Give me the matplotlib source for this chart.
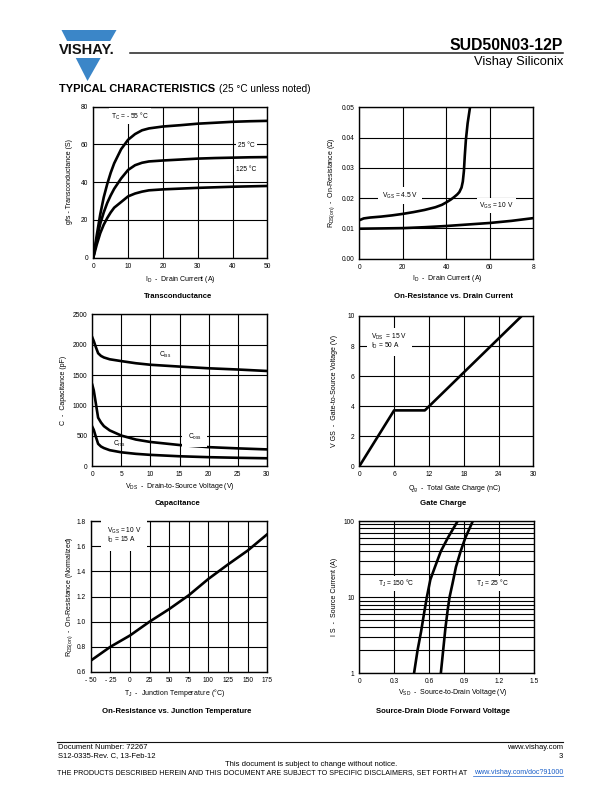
import matplotlib
matplotlib.use("Agg")
import matplotlib.pyplot as plt
from matplotlib.patches import Polygon, Rectangle
from matplotlib.lines import Line2D

plt.rcParams['font.family'] = ['Liberation Sans', 'DejaVu Sans']
plt.rcParams['mathtext.default'] = 'regular'

# ---------------- data ----------------
# Transconductance
id_gfs = [0, 1, 2, 3, 4, 5, 6, 8, 10, 12, 14, 16, 20, 25, 30, 35, 40, 45, 50]
gfs_m55 = [0, 12, 23, 32, 39, 45, 50, 57.5, 62.5, 65.5, 67.5, 68.5, 69.5, 70.2, 71, 71.5, 72, 72.3, 72.5]
gfs_25 = [0, 10, 18, 24, 29, 33, 36.5, 42, 46.5, 49, 50.3, 51, 51.5, 52, 52.5, 52.8, 53, 53.2, 53.3]
gfs_125 = [0, 7, 13, 17.5, 21, 24, 26.5, 29.5, 32.5, 34, 35, 35.7, 36.2, 36.6, 37, 37.3, 37.6, 37.8, 38]

# On-resistance vs drain current
id_45 = [0, 2, 5, 10, 15, 20, 25, 30, 35, 38, 40, 42, 43.5, 45, 46, 47, 47.6, 48.1, 48.5, 49.0, 49.8, 50.9]
rds_45 = [0.0127, 0.0133, 0.0136, 0.0139, 0.0143, 0.0148, 0.0154, 0.0161, 0.0170, 0.0178, 0.0186,
          0.0195, 0.0203, 0.0212, 0.0220, 0.0235, 0.0255, 0.0290, 0.0340, 0.0392, 0.0447, 0.0500]
id_10 = [0, 10, 20, 30, 40, 50, 60, 70, 80]
rds_10 = [0.0099, 0.0100, 0.0101, 0.0104, 0.0108, 0.0113, 0.0118, 0.0125, 0.0134]

# Capacitance
vds = [0, 0.25, 0.5, 1, 1.5, 2, 3, 5, 7.5, 10, 15, 20, 25, 30]
ciss = [2120, 2060, 1990, 1860, 1815, 1790, 1760, 1730, 1695, 1670, 1640, 1612, 1592, 1568]
coss = [1340, 1250, 1100, 800, 720, 660, 590, 505, 440, 400, 350, 315, 295, 278]
crss = [650, 600, 520, 370, 325, 300, 265, 230, 205, 188, 165, 150, 140, 132]

# Gate charge
qg = [0, 6, 11.3, 28]
vgs = [0, 3.72, 3.72, 10]

# On-resistance vs junction temperature
tj = [-50, -25, 0, 25, 50, 75, 100, 125, 150, 175]
rds_norm = [0.69, 0.80, 0.89, 1.00, 1.10, 1.21, 1.34, 1.455, 1.565, 1.695]

# Source-drain diode forward voltage
vsd_150 = [0.47, 0.50, 0.53, 0.555, 0.58, 0.61, 0.65, 0.70, 0.76, 0.845]
is_150 = [1, 2, 3.5, 6, 10, 17, 25, 40, 60, 100]
vsd_25 = [0.70, 0.72, 0.74, 0.76, 0.775, 0.80, 0.83, 0.87, 0.91, 0.975]
is_25 = [1, 2, 4, 7, 10, 15, 25, 40, 60, 100]

# tick labels
t1x = [0, 10, 20, 30, 40, 50]; t1y = [0, 20, 40, 60, 80]
t2x = [0, 20, 40, 60, 80]; t2xl = ['0', '20', '40', '60', '8']
t2y = [0.00, 0.01, 0.02, 0.03, 0.04, 0.05]
t3x = [0, 5, 10, 15, 20, 25, 30]; t3y = [0, 500, 1000, 1500, 2000, 2500]
t4x = [0, 6, 12, 18, 24, 30]; t4y = [0, 2, 4, 6, 8, 10]
t5x = [-50, -25, 0, 25, 50, 75, 100, 125, 150, 175]
t5xl = ['- 50', '- 25', '0', '25', '50', '75', '100', '125', '150', '175']
t5y = [0.6, 0.8, 1.0, 1.2, 1.4, 1.6, 1.8]
t6x = [0, 0.3, 0.6, 0.9, 1.2, 1.5]; t6y = [1, 10, 100]

# ---------------- figure ----------------
W, H = 612, 792
fig = plt.figure(figsize=(W / 100, H / 100), dpi=100)

def fx(x): return x / W
def fy(y): return 1 - y / H

BLUE = '#3b86c8'
# logo
fig.patches.append(Polygon([[fx(61.5), fy(30)], [fx(116.5), fy(30)], [fx(87.5), fy(81)]],
                           closed=True, transform=fig.transFigure, facecolor=BLUE, edgecolor='none'))
fig.patches.append(Rectangle((fx(56), fy(58)), (118 - 56) / W, (58 - 41) / H,
                             transform=fig.transFigure, facecolor='white', edgecolor='none'))
fig.text(fx(87), fy(50), 'VISHAY.', ha='center', va='center', fontsize=10.5, fontweight='bold', color='#111')

fig.add_artist(Line2D([fx(130), fx(563)], [fy(53.3), fy(53.3)], color='#222', lw=1.1,
                      transform=fig.transFigure))
fig.text(fx(563), fy(45), 'SUD50N03-12P', ha='right', va='center', fontsize=11.3, fontweight='bold')
fig.text(fx(563), fy(62.5), 'Vishay Siliconix', ha='right', va='center', fontsize=9.3)
fig.text(fx(59.3), fy(89), 'TYPICAL CHARACTERISTICS', ha='left', va='center', fontsize=8, fontweight='bold')
fig.text(fx(219), fy(89), '(25 °C unless noted)', ha='left', va='center', fontsize=7.2)

# footer
fig.add_artist(Line2D([fx(57), fx(563)], [fy(741.5), fy(741.5)], color='#111', lw=0.8,
                      transform=fig.transFigure))
fs_f = 5.5
fig.text(fx(58), fy(747.5), 'Document Number: 72267', ha='left', va='center', fontsize=fs_f)
fig.text(fx(58), fy(756), 'S12-0335-Rev. C, 13-Feb-12', ha='left', va='center', fontsize=fs_f)
fig.text(fx(563), fy(747.5), 'www.vishay.com', ha='right', va='center', fontsize=fs_f)
fig.text(fx(563), fy(756), '3', ha='right', va='center', fontsize=fs_f)
fig.text(fx(311), fy(764), 'This document is subject to change without notice.', ha='center', va='center', fontsize=fs_f)
fig.text(fx(57), fy(772.5), 'THE PRODUCTS DESCRIBED HEREIN AND THIS DOCUMENT ARE SUBJECT TO SPECIFIC DISCLAIMERS, SET FORTH AT',
         ha='left', va='center', fontsize=5.1)
fig.text(fx(563), fy(772.5), 'www.vishay.com/doc?91000', ha='right', va='center', fontsize=5.1, color='#1a5fc8')
fig.add_artist(Line2D([fx(473), fx(563)], [fy(776), fy(776)], color='#1a5fc8', lw=0.5,
                      transform=fig.transFigure))

LW = 1.9
TICK_FS = 4.8
LAB_FS = 5.0
ANN_FS = 4.8
BOX = dict(facecolor='white', edgecolor='none', pad=1.5)


def make_ax(l, r, t, b):
    ax = fig.add_axes([fx(l), fy(b), (r - l) / W, (b - t) / H])
    for s in ax.spines.values():
        s.set_linewidth(1.0)
        s.set_color('black')
    ax.tick_params(length=0, labelsize=TICK_FS, pad=3.5, which='both')
    ax.grid(True, color='black', lw=0.8)
    ax.set_axisbelow(True)
    ax._pix = (l, r, t, b)
    return ax


def place_labels(ax, xlabel, xl_pos, ylabel, yl_pos, title, title_pos):
    l, r, t, b = ax._pix
    ax.set_xlabel(xlabel, fontsize=LAB_FS, va='center', ha='center')
    ax.xaxis.set_label_coords((xl_pos[0] - l) / (r - l), (b - xl_pos[1]) / (b - t))
    ax.set_ylabel(ylabel, fontsize=LAB_FS, va='center', ha='center')
    ax.yaxis.set_label_coords((yl_pos[0] - l) / (r - l), (b - yl_pos[1]) / (b - t))
    fig.text(fx(title_pos[0]), fy(title_pos[1]), title, ha='center', va='center',
             fontsize=5.6, fontweight='bold')


# ---- 1 Transconductance ----
ax1 = make_ax(93.3, 267.3, 106.7, 257.7)
ax1.plot(id_gfs, gfs_m55, color='black', lw=LW, solid_capstyle='round')
ax1.plot(id_gfs, gfs_25, color='black', lw=LW, solid_capstyle='round')
ax1.plot(id_gfs, gfs_125, color='black', lw=LW, solid_capstyle='round')
ax1.set_xlim(0, 50); ax1.set_ylim(0, 80)
ax1.set_xticks(t1x); ax1.set_yticks(t1y)
ax1.text(10.5, 75, 'T$_C$ = - 55 °C', fontsize=ANN_FS, ha='center', va='center', bbox=BOX)
ax1.text(44, 59.5, '25 °C', fontsize=ANN_FS, ha='center', va='center', bbox=BOX)
ax1.text(43.8, 46.5, '125 °C', fontsize=ANN_FS, ha='center', va='center', bbox=BOX)
place_labels(ax1, 'I$_D$  -  Drain Current (A)', (180, 279.3),
             'gfs - Transconductance (S)', (69.5, 182), 'Transconductance', (177.7, 296))

# ---- 2 On-resistance vs drain current ----
ax2 = make_ax(359.3, 533.3, 107.3, 258.7)
ax2.plot(id_45, rds_45, color='black', lw=LW)
ax2.plot(id_10, rds_10, color='black', lw=LW)
ax2.set_xlim(0, 80); ax2.set_ylim(0, 0.05)
ax2.set_xticks(t2x); ax2.set_xticklabels(t2xl)
ax2.set_yticks(t2y); ax2.set_yticklabels(['%.2f' % v for v in t2y])
ax2.text(18.7, 0.0208, 'V$_{GS}$ = 4.5 V', fontsize=ANN_FS, ha='center', va='center',
         bbox=dict(facecolor='white', edgecolor='none', pad=2.5))
ax2.text(63, 0.0176, 'V$_{GS}$ = 10 V', fontsize=ANN_FS, ha='center', va='center', bbox=BOX)
place_labels(ax2, 'I$_D$  -  Drain Current (A)', (447, 278.5),
             'R$_{DS(on)}$  -  On-Resistance (Ω)', (332, 183),
             'On-Resistance vs. Drain Current', (453.3, 296.7))

# ---- 3 Capacitance ----
ax3 = make_ax(92.3, 266.7, 314.3, 466.3)
ax3.plot(vds, ciss, color='black', lw=LW)
ax3.plot(vds, coss, color='black', lw=LW)
ax3.plot(vds, crss, color='black', lw=LW)
ax3.set_xlim(0, 30); ax3.set_ylim(0, 2500)
ax3.set_xticks(t3x); ax3.set_yticks(t3y)
ax3.text(12.5, 1830, 'C$_{iss}$', fontsize=ANN_FS, ha='center', va='center')
ax3.text(17.6, 490, 'C$_{oss}$', fontsize=ANN_FS, ha='center', va='center',
         bbox=dict(facecolor='white', edgecolor='none', pad=4))
ax3.text(4.6, 375, 'C$_{rss}$', fontsize=ANN_FS, ha='center', va='center')
place_labels(ax3, 'V$_{DS}$  -  Drain-to-Source Voltage (V)', (180, 486.7),
             'C  -  Capacitance (pF)', (63.5, 390), 'Capacitance', (177, 503.3))

# ---- 4 Gate charge ----
ax4 = make_ax(359.3, 533.3, 316, 466.3)
ax4.plot(qg, vgs, color='black', lw=LW)
ax4.set_xlim(0, 30); ax4.set_ylim(0, 10)
ax4.set_xticks(t4x); ax4.set_yticks(t4y)
ax4.text(2.1, 8.3, 'V$_{DS}$  = 15 V\nI$_D$ = 50 A', fontsize=ANN_FS, ha='left', va='center',
         linespacing=0.9, bbox=dict(facecolor='white', edgecolor='none', pad=3))
place_labels(ax4, 'Q$_g$  -  Total Gate Charge (nC)', (455, 488.3),
             'V GS  -  Gate-to-Source Voltage (V)', (335, 391), 'Gate Charge', (443, 503.3))

# ---- 5 On-resistance vs junction temperature ----
ax5 = make_ax(90.7, 267.3, 521, 672)
ax5.plot(tj, rds_norm, color='black', lw=LW)
ax5.set_xlim(-50, 175); ax5.set_ylim(0.6, 1.8)
ax5.set_xticks(t5x); ax5.set_xticklabels(t5xl)
ax5.set_yticks(t5y); ax5.set_yticklabels(['%.1f' % v for v in t5y])
ax5.text(-29.5, 1.685, 'V$_{GS}$ = 10 V\nI$_D$ = 15 A', fontsize=ANN_FS, ha='left', va='center',
         linespacing=0.9, bbox=dict(facecolor='white', edgecolor='none', pad=4))
place_labels(ax5, 'T$_J$  -  Junction Temperature (°C)', (175, 692.7),
             'R$_{DS(on)}$  -  On-Resistance (Normalized)', (70, 597),
             'On-Resistance vs. Junction Temperature', (176.7, 711.7))

# ---- 6 Source-drain diode ----
ax6 = make_ax(359.3, 534, 521, 673.3)
ax6.set_yscale('log')
ax6.plot(vsd_150, is_150, color='black', lw=LW)
ax6.plot(vsd_25, is_25, color='black', lw=LW)
ax6.set_xlim(0, 1.5); ax6.set_ylim(1, 100)
ax6.set_xticks(t6x); ax6.set_xticklabels(['0', '0.3', '0.6', '0.9', '1.2', '1.5'])
ax6.set_yticks(t6y); ax6.set_yticklabels(['1', '10', '100'])
ax6.yaxis.set_minor_formatter(matplotlib.ticker.NullFormatter())
ax6.grid(True, which='minor', axis='y', color='black', lw=0.8)
ax6.text(0.32, 15, 'T$_J$ = 150 °C', fontsize=ANN_FS, ha='center', va='center', bbox=BOX)
ax6.text(1.14, 15, 'T$_J$ = 25 °C', fontsize=ANN_FS, ha='center', va='center', bbox=BOX)
place_labels(ax6, 'V$_{SD}$  -  Source-to-Drain Voltage (V)', (453, 692.7),
             'I S  -  Source Current (A)', (335, 597),
             'Source-Drain Diode Forward Voltage', (443, 711.7))

fig.savefig('out.png', dpi=100)
